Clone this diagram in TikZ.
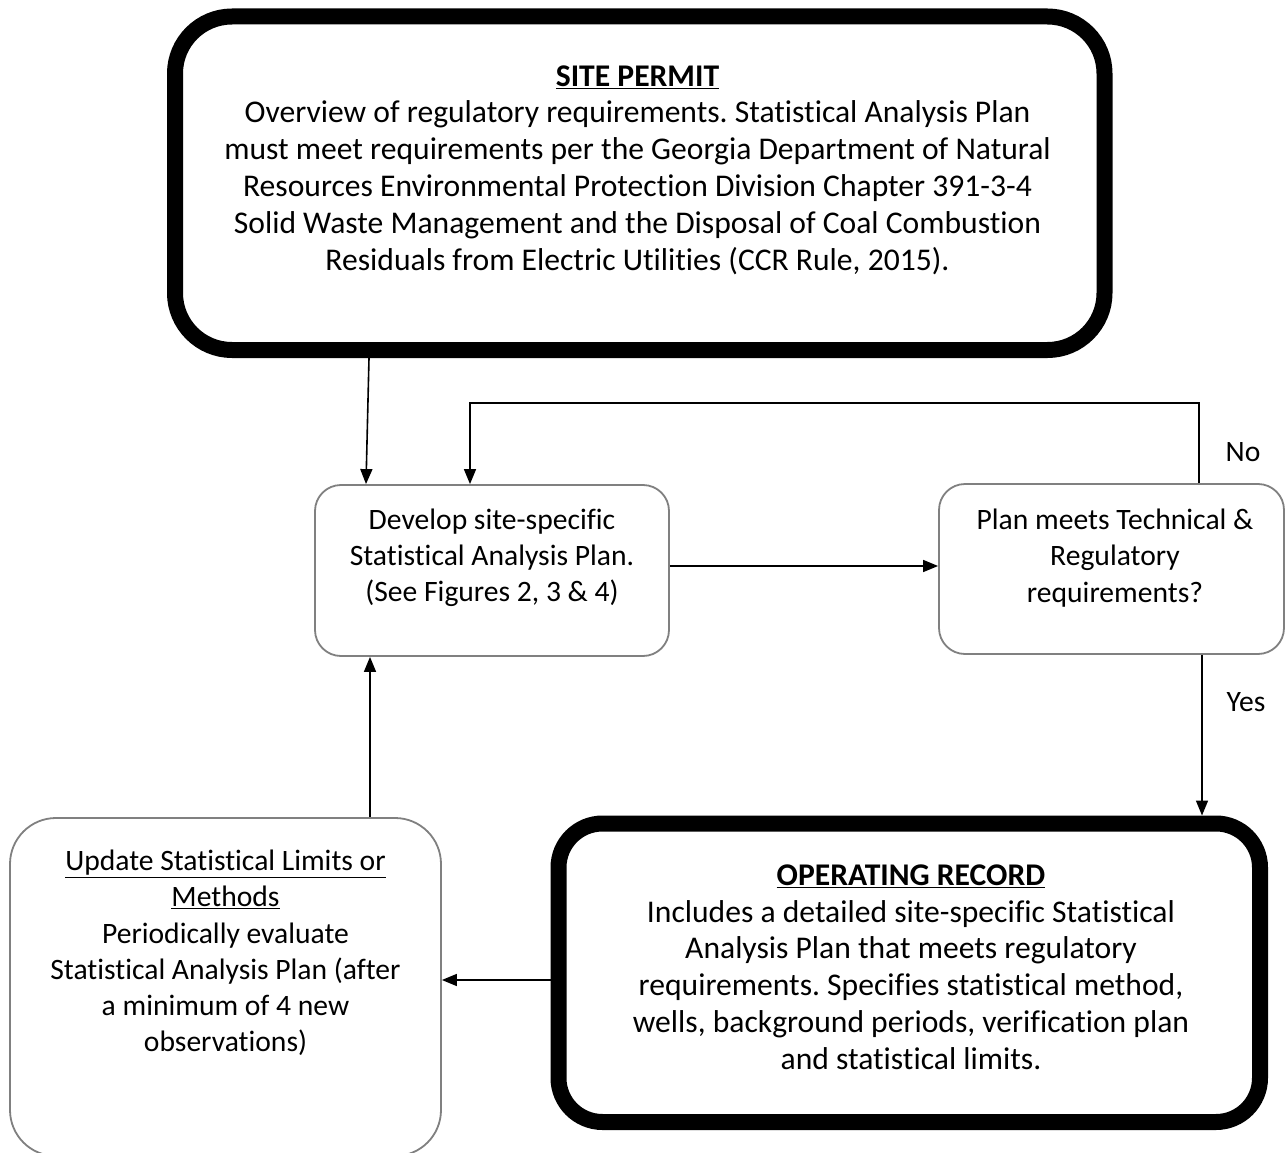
\documentclass[tikz,border=0pt]{standalone}
\usepackage{fontspec}
\setmainfont{Carlito}[Ligatures=NoCommon]
\usetikzlibrary{arrows.meta,calc}
\frenchspacing
\tikzset{
  thickbox/.style={draw=black, line width=16pt, fill=white},
  thinbox/.style={draw=black!50, line width=1.8pt, rounded corners=26pt, fill=white},
  conn/.style={draw=black, line width=1.6pt, -{Triangle[length=15pt,width=12pt]}},
  txt/.style={align=center, inner sep=0pt, font=\fontsize{29.6}{36.2}\selectfont},
  bigtxt/.style={align=center, inner sep=0pt, font=\fontsize{31.6}{36.8}\selectfont},
  lbl/.style={inner sep=0pt, font=\fontsize{29.6}{32}\selectfont}
}
\begin{document}
\begin{tikzpicture}[x=1pt,y=-1pt]
\useasboundingbox (0,0) rectangle (1286,1153);
% boxes
\node[thickbox, rounded corners=57pt, minimum width=929.5pt, minimum height=333.5pt] (permit) at (639.75,183.25) {};
\node[thinbox, minimum width=354pt, minimum height=171pt] (develop) at (492,570.5) {};
\node[thinbox, minimum width=345pt, minimum height=170pt] (plan) at (1111.5,569) {};
\node[thinbox, rounded corners=46pt, minimum width=431pt, minimum height=338pt] (update) at (225.5,987) {};
\node[thickbox, rounded corners=44pt, minimum width=701.5pt, minimum height=298.5pt] (oprec) at (909.25,972.75) {};
% texts
\node[bigtxt] (permittxt) at (637.5,170) {\textbf{\underline{SITE PERMIT}}\\
Overview of regulatory requirements. Statistical Analysis Plan\\
must meet requirements per the Georgia Department of Natural\\
Resources Environmental Protection Division Chapter 391-3-4\\
Solid Waste Management and the Disposal of Coal Combustion\\
Residuals from Electric Utilities (CCR Rule, 2015).};
\node[txt] (developtxt) at (492,558) {Develop site-specific\\Statistical Analysis Plan.\\(See Figures 2, 3 \& 4)};
\node[txt] (plantxt) at (1115,558) {Plan meets Technical \&\\Regulatory\\requirements?};
\node[txt] (updatetxt) at (225.5,953) {\underline{Update Statistical Limits or}\\\underline{Methods}\\Periodically evaluate\\Statistical Analysis Plan (after\\a minimum of 4 new\\observations)};
\node[bigtxt] (oprectxt) at (911,967) {\textbf{\underline{OPERATING RECORD}}\\
Includes a detailed site-specific Statistical\\
Analysis Plan that meets regulatory\\
requirements. Specifies statistical method,\\
wells, background periods, verification plan\\
and statistical limits.};
% helper coordinates
\coordinate (xa) at (369,0);
\coordinate (xb) at (366,0);
\coordinate (looptop) at (1199,403);
\coordinate (loopleft) at (470,403);
\coordinate (ya) at (0,566);
\coordinate (xc) at (1202,0);
\coordinate (yb) at (0,980);
\coordinate (xd) at (370,0);
% connectors
\draw[conn] (permit.south -| xa) -- (develop.north -| xb);
\draw[conn] (plan.north -| looptop) -- (looptop) -| (develop.north -| loopleft);
\draw[conn] (develop.east |- ya) -- (plan.west |- ya);
\draw[conn] (plan.south -| xc) -- (oprec.north -| xc);
\draw[conn] (oprec.west |- yb) -- (update.east |- yb);
\draw[conn] (update.north -| xd) -- (develop.south -| xd);
% labels
\node[lbl] (no) at (1243,452) {No};
\node[lbl] (yes) at (1246,702) {Yes};
\end{tikzpicture}
\end{document}
